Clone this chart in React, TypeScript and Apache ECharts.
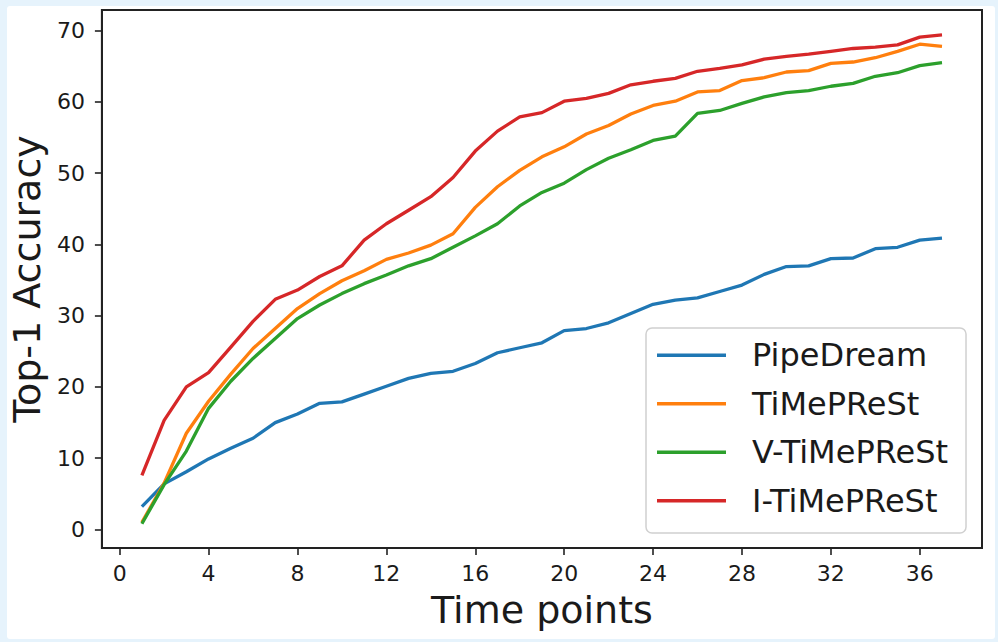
import React, { useEffect, useRef } from "react";
import * as echarts from "echarts";

const timePoints = [1,2,3,4,5,6,7,8,9,10,11,12,13,14,15,16,17,18,19,20,21,22,23,24,25,26,27,28,29,30,31,32,33,34,35,36,37];
const pipeDream = [3.2,6.4,8.1,9.9,11.4,12.8,15.0,16.2,17.7,17.9,19.0,20.1,21.2,21.9,22.2,23.3,24.8,25.5,26.2,27.9,28.2,29.0,30.3,31.6,32.2,32.5,33.4,34.3,35.8,36.9,37.0,38.0,38.1,39.4,39.6,40.6,40.9];
const tiMePReSt = [1.0,6.5,13.5,18.0,21.8,25.4,28.2,31.0,33.1,34.9,36.3,37.9,38.8,39.9,41.5,45.2,48.1,50.4,52.3,53.7,55.5,56.7,58.3,59.5,60.1,61.4,61.6,63.0,63.4,64.2,64.4,65.4,65.6,66.2,67.1,68.1,67.8];
const vTiMePReSt = [0.8,6.3,11.0,17.0,20.8,24.0,26.8,29.6,31.5,33.1,34.5,35.7,37.0,38.0,39.6,41.2,42.9,45.4,47.3,48.6,50.5,52.1,53.3,54.6,55.2,58.4,58.8,59.8,60.7,61.3,61.6,62.2,62.6,63.6,64.1,65.1,65.5];
const iTiMePReSt = [7.6,15.3,20.0,22.0,25.6,29.2,32.3,33.6,35.5,37.0,40.6,42.9,44.8,46.7,49.4,53.1,55.9,57.9,58.5,60.1,60.5,61.2,62.4,62.9,63.3,64.3,64.7,65.2,66.0,66.4,66.7,67.1,67.5,67.7,68.0,69.1,69.4];

const seriesNames = ["PipeDream", "TiMePReSt", "V-TiMePReSt", "I-TiMePReSt"];
const seriesColors = ["#1f77b4", "#ff7f0e", "#2ca02c", "#d62728"];
const xTicks = [0, 4, 8, 12, 16, 20, 24, 28, 32, 36];
const yTicks = [0, 10, 20, 30, 40, 50, 60, 70];
const xLabel = "Time points";
const yLabel = "Top-1 Accuracy";

const FONT = "DejaVu Sans";

export default function App() {
  const ref = useRef<HTMLDivElement>(null);
  useEffect(() => {
    if (!ref.current) return;
    const chart = echarts.init(ref.current, undefined, { renderer: "svg" });
    const allSeries = [pipeDream, tiMePReSt, vTiMePReSt, iTiMePReSt];
    chart.setOption({
      animation: false,
      backgroundColor: "#e6f3fc",
      graphic: [
        {
          type: "rect",
          z: -1,
          shape: { x: 7, y: 6, width: 988, height: 633, r: 3 },
          style: { fill: "#ffffff" },
          silent: true,
        },
      ],
      grid: {
        left: 99,
        top: 10,
        right: 16,
        bottom: 94,
        show: true,
        borderColor: "#222222",
        borderWidth: 2,
        backgroundColor: "#ffffff",
      },
      legend: {
        left: 646,
        top: 328,
        orient: "vertical",
        data: seriesNames.map((n) => ({ name: n, icon: "rect" })),
        itemWidth: 69,
        itemHeight: 3.5,
        itemGap: 12,
        padding: [9, 18, 14, 11],
        borderColor: "#d0d0d0",
        borderWidth: 1.5,
        borderRadius: 6,
        backgroundColor: "#ffffff",
        textStyle: {
          fontFamily: FONT,
          fontSize: 32,
          color: "#1a1a1a",
          lineHeight: 36.5,
          padding: [0, 0, 0, 21],
        },
      },
      xAxis: {
        type: "value",
        min: -0.8,
        max: 38.8,
        name: xLabel,
        nameLocation: "middle",
        nameGap: 43,
        nameTextStyle: { fontFamily: FONT, fontSize: 38, color: "#1a1a1a" },
        axisLine: { show: true, onZero: false, lineStyle: { color: "#222222", width: 2 } },
        axisTick: {
          show: true,
          length: 7,
          lineStyle: { color: "#222222", width: 1.6 },
          customValues: xTicks,
        },
        axisLabel: {
          fontFamily: FONT,
          fontSize: 22,
          color: "#1a1a1a",
          margin: 14,
          customValues: xTicks,
        },
        splitLine: { show: false },
      },
      yAxis: {
        type: "value",
        min: -2.6,
        max: 72.9,
        name: yLabel,
        nameLocation: "middle",
        nameGap: 53,
        nameTextStyle: { fontFamily: FONT, fontSize: 38, color: "#1a1a1a" },
        axisLine: { show: true, onZero: false, lineStyle: { color: "#222222", width: 2 } },
        axisTick: {
          show: true,
          length: 7,
          lineStyle: { color: "#222222", width: 1.6 },
          customValues: yTicks,
        },
        axisLabel: {
          fontFamily: FONT,
          fontSize: 22,
          color: "#1a1a1a",
          margin: 17,
          customValues: yTicks,
        },
        splitLine: { show: false },
      },
      series: allSeries.map((vals, i) => ({
        name: seriesNames[i],
        type: "line",
        data: timePoints.map((t, j) => [t, vals[j]]),
        showSymbol: false,
        symbol: "none",
        color: seriesColors[i],
        lineStyle: { width: 3.3, color: seriesColors[i] },
      })),
    });
    return () => chart.dispose();
  }, []);
  return (
    <div
      ref={ref}
      style={{ position: "fixed", left: 0, top: 0, width: 998, height: 642 }}
    />
  );
}
